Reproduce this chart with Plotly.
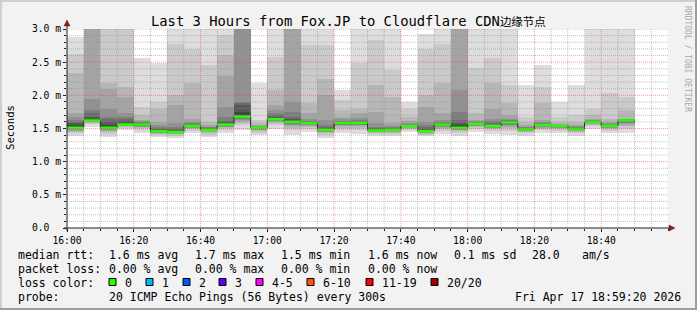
import plotly.graph_objects as go
from datetime import datetime, timedelta

# ---------------- data ----------------
DAY = "2026-04-17"
start_times = ["16:00", "16:05", "16:10", "16:15", "16:20", "16:25", "16:30", "16:35",
               "16:40", "16:45", "16:50", "16:55", "17:00", "17:05", "17:10", "17:15",
               "17:20", "17:25", "17:30", "17:35", "17:40", "17:45", "17:50", "17:55",
               "18:00", "18:05", "18:10", "18:15", "18:20", "18:25", "18:30", "18:35",
               "18:40", "18:45"]

median_ms = [1.51, 1.62, 1.51, 1.56, 1.56, 1.46, 1.45, 1.54, 1.48, 1.56, 1.68, 1.51,
             1.64, 1.60, 1.585, 1.48, 1.585, 1.585, 1.47, 1.48, 1.54, 1.46, 1.56, 1.51,
             1.57, 1.54, 1.59, 1.49, 1.555, 1.54, 1.495, 1.60, 1.54, 1.62]

# 20 sorted ping RTTs (ms) per 5-minute step
ping_1600 = [1.38, 1.426, 1.452, 1.468, 1.480, 1.489, 1.496, 1.501, 1.505, 1.509, 1.52, 1.55, 1.58, 1.60, 1.63, 1.68, 1.73, 2.33, 2.63, 2.88]
ping_1605 = [1.53, 1.562, 1.580, 1.591, 1.599, 1.606, 1.610, 1.614, 1.616, 1.619, 1.63, 1.65, 1.68, 1.73, 1.78, 1.95, 3.2, 3.4, 3.6, 3.9]
ping_1610 = [1.37, 1.419, 1.447, 1.465, 1.478, 1.488, 1.495, 1.500, 1.504, 1.509, 1.52, 1.56, 1.60, 1.65, 1.68, 1.80, 2.10, 2.19, 3.3, 3.6]
ping_1615 = [1.47, 1.502, 1.520, 1.531, 1.539, 1.546, 1.550, 1.554, 1.556, 1.559, 1.57, 1.59, 1.61, 1.64, 1.68, 1.73, 1.97, 2.13, 3.3, 3.6]
ping_1620 = [1.43, 1.476, 1.502, 1.518, 1.530, 1.539, 1.546, 1.551, 1.555, 1.559, 1.565, 1.57, 1.58, 1.59, 1.60, 1.61, 1.63, 1.70, 1.83, 2.56]
ping_1625 = [1.37, 1.402, 1.420, 1.431, 1.439, 1.446, 1.450, 1.454, 1.456, 1.459, 1.47, 1.48, 1.49, 1.50, 1.52, 1.55, 1.60, 1.80, 1.90, 2.48]
ping_1630 = [1.36, 1.392, 1.410, 1.421, 1.429, 1.436, 1.440, 1.444, 1.446, 1.449, 1.455, 1.47, 1.48, 1.50, 1.53, 1.58, 1.85, 2.00, 2.78, 3.3]
ping_1635 = [1.43, 1.469, 1.491, 1.505, 1.515, 1.522, 1.528, 1.532, 1.536, 1.539, 1.545, 1.55, 1.56, 1.57, 1.58, 1.60, 1.65, 2.18, 2.70, 3.3]
ping_1640 = [1.37, 1.409, 1.431, 1.445, 1.455, 1.462, 1.468, 1.472, 1.476, 1.479, 1.485, 1.49, 1.50, 1.51, 1.52, 1.53, 1.55, 1.60, 2.46, 3.3]
ping_1645 = [1.43, 1.476, 1.502, 1.518, 1.530, 1.539, 1.546, 1.551, 1.555, 1.559, 1.565, 1.58, 1.60, 1.62, 1.68, 1.83, 2.29, 2.61, 2.91, 3.2]
ping_1650 = [1.48, 1.55, 1.59, 1.616, 1.634, 1.648, 1.658, 1.666, 1.672, 1.678, 1.70, 1.75, 1.86, 1.89, 1.90, 3.2, 3.4, 3.6, 3.8, 4.0]
ping_1655 = [1.40, 1.439, 1.461, 1.475, 1.485, 1.492, 1.498, 1.502, 1.506, 1.509, 1.512, 1.515, 1.52, 1.525, 1.53, 1.54, 1.55, 1.58, 1.63, 2.18]
ping_1700 = [1.50, 1.549, 1.577, 1.595, 1.608, 1.618, 1.625, 1.630, 1.634, 1.639, 1.65, 1.66, 1.68, 1.70, 1.73, 1.78, 1.85, 2.08, 2.58, 3.3]
ping_1705 = [1.40, 1.47, 1.51, 1.536, 1.554, 1.568, 1.578, 1.586, 1.592, 1.598, 1.61, 1.62, 1.65, 1.68, 1.75, 1.90, 3.2, 3.4, 3.6, 3.9]
ping_1710 = [1.45, 1.497, 1.524, 1.542, 1.554, 1.563, 1.570, 1.576, 1.580, 1.584, 1.59, 1.595, 1.60, 1.61, 1.62, 1.65, 1.73, 1.88, 2.76, 3.3]
ping_1715 = [1.36, 1.402, 1.426, 1.442, 1.452, 1.461, 1.467, 1.472, 1.475, 1.479, 1.49, 1.50, 1.51, 1.53, 1.55, 1.63, 2.00, 2.24, 2.76, 3.3]
ping_1720 = [1.43, 1.484, 1.515, 1.535, 1.549, 1.560, 1.568, 1.574, 1.579, 1.583, 1.59, 1.595, 1.60, 1.61, 1.62, 1.64, 1.68, 1.78, 1.93, 2.08]
ping_1725 = [1.42, 1.478, 1.511, 1.532, 1.547, 1.559, 1.567, 1.573, 1.578, 1.583, 1.59, 1.595, 1.60, 1.61, 1.63, 1.66, 1.73, 1.80, 2.48, 3.3]
ping_1730 = [1.38, 1.412, 1.430, 1.441, 1.449, 1.456, 1.460, 1.464, 1.466, 1.469, 1.475, 1.48, 1.49, 1.51, 1.53, 1.58, 1.75, 2.16, 2.83, 3.3]
ping_1735 = [1.38, 1.415, 1.435, 1.448, 1.457, 1.464, 1.469, 1.473, 1.476, 1.479, 1.485, 1.49, 1.50, 1.51, 1.52, 1.54, 1.58, 1.98, 2.38, 3.3]
ping_1740 = [1.45, 1.482, 1.500, 1.511, 1.519, 1.526, 1.530, 1.534, 1.536, 1.539, 1.542, 1.545, 1.55, 1.56, 1.57, 1.59, 1.62, 1.68, 1.80, 1.90]
ping_1745 = [1.38, 1.408, 1.424, 1.434, 1.442, 1.447, 1.451, 1.454, 1.457, 1.459, 1.47, 1.48, 1.50, 1.52, 1.55, 1.60, 1.83, 2.01, 2.70, 2.93]
ping_1750 = [1.42, 1.469, 1.497, 1.515, 1.528, 1.538, 1.545, 1.550, 1.554, 1.559, 1.565, 1.57, 1.575, 1.585, 1.60, 1.63, 1.73, 2.18, 2.78, 3.3]
ping_1755 = [1.39, 1.432, 1.456, 1.472, 1.482, 1.491, 1.497, 1.502, 1.505, 1.509, 1.52, 1.55, 1.58, 1.63, 1.75, 2.08, 3.2, 3.4, 3.6, 3.9]
ping_1800 = [1.45, 1.492, 1.516, 1.532, 1.542, 1.551, 1.557, 1.562, 1.565, 1.569, 1.575, 1.58, 1.585, 1.59, 1.60, 1.61, 1.63, 1.73, 2.41, 3.3]
ping_1805 = [1.42, 1.462, 1.486, 1.502, 1.512, 1.521, 1.527, 1.532, 1.535, 1.539, 1.545, 1.55, 1.56, 1.58, 1.61, 1.65, 1.80, 2.18, 2.56, 3.3]
ping_1810 = [1.40, 1.467, 1.505, 1.529, 1.546, 1.560, 1.569, 1.577, 1.582, 1.588, 1.595, 1.60, 1.61, 1.62, 1.63, 1.65, 1.70, 1.88, 2.16, 3.3]
ping_1815 = [1.39, 1.425, 1.445, 1.458, 1.467, 1.474, 1.479, 1.483, 1.486, 1.489, 1.495, 1.50, 1.505, 1.51, 1.52, 1.53, 1.56, 1.60, 1.68, 2.16]
ping_1820 = [1.43, 1.474, 1.499, 1.515, 1.526, 1.535, 1.541, 1.546, 1.550, 1.554, 1.56, 1.565, 1.57, 1.58, 1.59, 1.60, 1.63, 1.88, 2.13, 2.46]
ping_1825 = [1.43, 1.469, 1.491, 1.505, 1.515, 1.522, 1.528, 1.532, 1.536, 1.539, 1.542, 1.545, 1.548, 1.55, 1.555, 1.56, 1.57, 1.60, 1.68, 1.90]
ping_1830 = [1.39, 1.427, 1.448, 1.461, 1.471, 1.478, 1.483, 1.488, 1.491, 1.494, 1.50, 1.505, 1.51, 1.52, 1.53, 1.54, 1.56, 1.60, 1.70, 2.16]
ping_1835 = [1.50, 1.535, 1.555, 1.568, 1.577, 1.584, 1.589, 1.593, 1.596, 1.599, 1.605, 1.61, 1.615, 1.62, 1.625, 1.63, 1.65, 1.70, 1.80, 3.3]
ping_1840 = [1.43, 1.469, 1.491, 1.505, 1.515, 1.522, 1.528, 1.532, 1.536, 1.539, 1.545, 1.55, 1.555, 1.56, 1.57, 1.58, 1.60, 1.65, 2.03, 3.3]
ping_1845 = [1.43, 1.497, 1.535, 1.559, 1.576, 1.590, 1.599, 1.607, 1.612, 1.618, 1.622, 1.626, 1.63, 1.635, 1.64, 1.645, 1.65, 1.78, 1.98, 3.3]

ytick_vals = [0.0, 0.5, 1.0, 1.5, 2.0, 2.5, 3.0]
ytick_text = ["0.0\u00a0\u00a0", "0.5 m", "1.0 m", "1.5 m", "2.0 m", "2.5 m", "3.0 m"]
xtick_text = ["16:00", "16:20", "16:40", "17:00", "17:20", "17:40", "18:00", "18:20", "18:40"]

title_main = "Last 3 Hours from Fox.JP to Cloudflare CDN"
title_cjk = "边缘节点"

legend_rtt = [("median rtt:", 16), ("1.6 ms avg", 107), ("1.7 ms max", 193), ("1.5 ms min", 279),
              ("1.6 ms now", 366), ("0.1 ms sd", 452), ("28.0", 530), ("am/s", 580)]
legend_loss = [("packet loss:", 16), ("0.00 % avg", 107), ("0.00 % max", 193),
               ("0.00 % min", 279), ("0.00 % now", 366)]
loss_labels = ["0", "1", "2", "3", "4-5", "6-10", "11-19", "20/20"]
loss_colors = ["#26ff00", "#00b8ff", "#0059ff", "#5e00ff", "#ff00ff", "#ff5500", "#ff0000", "#a10000"]
loss_box_x = [109, 146, 183, 219, 256, 307, 366, 431]
probe_text = "20 ICMP Echo Pings (56 Bytes) every 300s"
stamp_text = "Fri Apr 17 18:59:20 2026"

# ---------------- geometry ----------------
W, H = 697, 310
L, R, T, B = 67, 668, 29, 228          # plot area pixel box
def X(px):
    return (px - L) / (R - L)
def Y(py):
    return (B - py) / (B - T)

MONO = "DejaVu Sans Mono"

bars = [ping_1600, ping_1605, ping_1610, ping_1615, ping_1620, ping_1625, ping_1630, ping_1635,
        ping_1640, ping_1645, ping_1650, ping_1655, ping_1700, ping_1705, ping_1710, ping_1715,
        ping_1720, ping_1725, ping_1730, ping_1735, ping_1740, ping_1745, ping_1750, ping_1755,
        ping_1800, ping_1805, ping_1810, ping_1815, ping_1820, ping_1825, ping_1830, ping_1835,
        ping_1840, ping_1845]

fmt = "%Y-%m-%d %H:%M"
starts = [datetime.strptime(DAY + " " + s, fmt) for s in start_times]
step = timedelta(minutes=5)
centers = [s + step / 2 for s in starts]
t_begin = datetime.strptime(DAY + " 16:00", fmt)
t_end = t_begin + timedelta(hours=3)
xtick_vals = [datetime.strptime(DAY + " " + s, fmt) for s in xtick_text]

fig = go.Figure()

# smoke layers (outermost lightest, inner darker)
n = 20
half = n // 2
for k in range(1, half + 1):
    c = int(190 / half * (half - k)) + 50
    lo = [b[k - 1] for b in bars]
    hi = [b[n - k] for b in bars]
    fig.add_trace(go.Bar(
        x=centers, base=lo, y=[h - l for h, l in zip(hi, lo)],
        width=step.total_seconds() * 1000,
        marker=dict(color=f"rgb({c},{c},{c})", line=dict(width=0)),
        opacity=1, hoverinfo="skip", showlegend=False))

# median step line (dark) and green loss-coloured median segments
fig.add_trace(go.Scatter(
    x=starts + [starts[-1] + step], y=median_ms + [median_ms[-1]],
    mode="lines", line=dict(color="#101010", width=1, shape="hv"),
    hoverinfo="skip", showlegend=False))
seg_x, seg_y = [], []
for s, m in zip(starts, median_ms):
    seg_x += [s, s + step, None]
    seg_y += [m, m, None]
fig.add_trace(go.Scatter(
    x=seg_x, y=seg_y, mode="lines", line=dict(color=loss_colors[0], width=2.6),
    hoverinfo="skip", showlegend=False))

shapes = []
# grid on top of the smoke
grid_c = "rgba(143,143,143,0.55)"
mgrid_c = "rgba(222,79,79,0.55)"
t = t_begin + step
i = 1
while t < t_end:
    shapes.append(dict(type="line", xref="x", yref="y", x0=t, x1=t, y0=0, y1=3.0,
                       line=dict(color=mgrid_c if i % 4 == 0 else grid_c, width=1, dash="1px,1px"),
                       layer="above"))
    t += step
    i += 1
for j in range(1, 31):
    v = j / 10
    shapes.append(dict(type="line", xref="x", yref="y", x0=t_begin, x1=t_end, y0=v, y1=v,
                       line=dict(color=mgrid_c if j % 5 == 0 else grid_c, width=1, dash="1px,1px"),
                       layer="above"))

# axes with arrows
axis_c = "#1f1f1f"
arrow_c = "#801f1f"
shapes.append(dict(type="line", xref="paper", yref="paper", x0=X(67), x1=X(67), y0=Y(231), y1=Y(24),
                   line=dict(color=axis_c, width=1), layer="above"))
shapes.append(dict(type="line", xref="paper", yref="paper", x0=X(64), x1=X(671), y0=Y(228), y1=Y(228),
                   line=dict(color=axis_c, width=1), layer="above"))
shapes.append(dict(type="path", xref="paper", yref="paper",
                   path=f"M {X(64)} {Y(26)} L {X(70)} {Y(26)} L {X(67)} {Y(20)} Z",
                   fillcolor=arrow_c, line=dict(color=arrow_c, width=0.5), layer="above"))
shapes.append(dict(type="path", xref="paper", yref="paper",
                   path=f"M {X(669)} {Y(225)} L {X(669)} {Y(231)} L {X(675)} {Y(228)} Z",
                   fillcolor=arrow_c, line=dict(color=arrow_c, width=0.5), layer="above"))

# frame (shade A top/left, shade B bottom/right)
shapes.append(dict(type="line", xref="paper", yref="paper", x0=X(0), x1=X(W), y0=Y(1), y1=Y(1),
                   line=dict(color="#cfcfcf", width=2)))
shapes.append(dict(type="line", xref="paper", yref="paper", x0=X(1), x1=X(1), y0=Y(0), y1=Y(H),
                   line=dict(color="#cfcfcf", width=2)))
shapes.append(dict(type="line", xref="paper", yref="paper", x0=X(0), x1=X(W), y0=Y(H - 1), y1=Y(H - 1),
                   line=dict(color="#9e9e9e", width=2)))
shapes.append(dict(type="line", xref="paper", yref="paper", x0=X(W - 1), x1=X(W - 1), y0=Y(0), y1=Y(H),
                   line=dict(color="#9e9e9e", width=2)))

# legend colour boxes
for bx, col in zip(loss_box_x, loss_colors):
    shapes.append(dict(type="rect", xref="paper", yref="paper",
                       x0=X(bx), x1=X(bx + 7), y0=Y(278.5), y1=Y(285.5),
                       fillcolor=col, line=dict(color="#000000", width=1)))

ann = []
def text(s, px, py, size=11.5, anchor="left", angle=0, color="#000000", family=MONO):
    ann.append(dict(text=s, x=X(px), y=Y(py), xref="paper", yref="paper",
                    xanchor=anchor, yanchor="middle", showarrow=False, textangle=angle,
                    font=dict(family=family, size=size, color=color)))

text(title_main + f"<span style='font-size:11.5px'>{title_cjk}</span>", 348, 21, size=13.8,
     anchor="center", family=MONO + ", Noto Sans CJK SC")
text("Seconds", 10, 128, size=10.7, anchor="center", angle=-90)
text("RRDTOOL / TOBI OETIKER", 688, 59, size=8, anchor="center", angle=90, color="#a8a8a8")
for s, px in legend_rtt:
    text(s, px, 254.5)
for s, px in legend_loss:
    text(s, px, 268.5)
text("loss color:", 16, 282.5)
for bx, lab in zip(loss_box_x, loss_labels):
    text(lab, bx + 14, 282.5)
text("probe:", 16, 296.5)
text(probe_text, 107, 296.5)
text(stamp_text, 513, 296.5)

fig.update_layout(
    width=W, height=H, autosize=False,
    margin=dict(l=L, r=W - R, t=T, b=H - B, pad=0),
    paper_bgcolor="#f2f2f2", plot_bgcolor="#ffffff",
    barmode="overlay", bargap=0, showlegend=False,
    font=dict(family=MONO, size=9.7, color="#000000"),
    xaxis=dict(type="date", range=[t_begin, t_end], showgrid=False, zeroline=False, showline=False,
               tickvals=xtick_vals, ticktext=xtick_text,
               ticks="outside", ticklen=3, tickcolor=axis_c, tickfont=dict(family=MONO, size=9.7),
               minor=dict(dtick=5 * 60 * 1000, ticks="outside", ticklen=2, tickcolor=axis_c, showgrid=False),
               fixedrange=True),
    yaxis=dict(range=[0, 3.0], showgrid=False, zeroline=False, showline=False,
               tickvals=ytick_vals, ticktext=ytick_text,
               ticks="outside", ticklen=3, tickcolor=axis_c, tickfont=dict(family=MONO, size=9.7),
               minor=dict(dtick=0.1, ticks="outside", ticklen=2, tickcolor=axis_c, showgrid=False),
               fixedrange=True),
    shapes=shapes, annotations=ann,
)

fig.write_html("out.html")
